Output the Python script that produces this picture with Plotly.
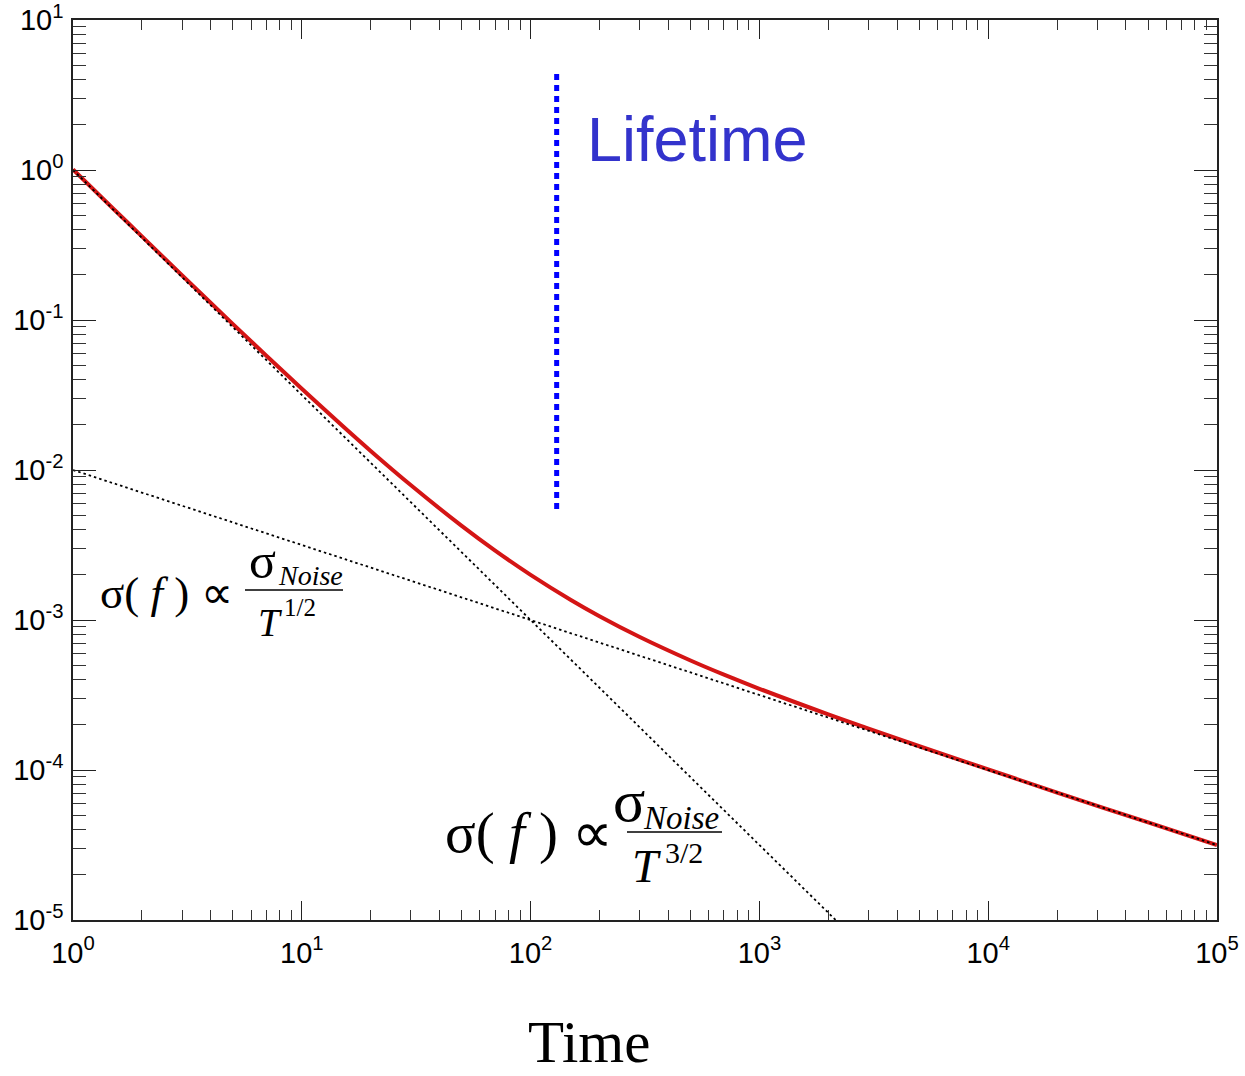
import plotly.graph_objects as go

# Total uncertainty vs. observing time (log-log)
time_vals = [1, 1.5, 2, 3, 5, 7, 10, 15, 20, 30, 50, 70, 100, 150, 200, 300, 500, 700,
             1000, 2000, 3000, 5000, 10000, 20000, 50000, 100000]
sigma_vals = [1.01, 0.552, 0.361, 0.198, 0.0939, 0.0578, 0.0348, 0.0198, 0.0134, 0.00791,
              0.00424, 0.00290, 0.00200, 0.00136, 0.00106, 0.000770, 0.000537, 0.000432,
              0.000348, 0.000235, 0.000189, 0.000144, 0.000101, 0.0000707, 0.0000447,
              0.0000316]

# Asymptotes
steep_t = [1, 2154]
steep_sigma = [1.0, 1e-5]
shallow_t = [1, 100000]
shallow_sigma = [0.01, 0.0000316]

# Lifetime marker
lifetime_t = [130, 130]
lifetime_sigma = [0.0055, 4.5]

x_ticks = [1, 10, 100, 1000, 10000, 100000]
x_ticktext = ["10<sup>0</sup>", "10<sup>1</sup>", "10<sup>2</sup>", "10<sup>3</sup>",
              "10<sup>4</sup>", "10<sup>5</sup>"]
y_ticks = [1e-5, 1e-4, 1e-3, 1e-2, 1e-1, 1, 10]
y_ticktext = ["10<sup>-5</sup>", "10<sup>-4</sup>", "10<sup>-3</sup>", "10<sup>-2</sup>",
              "10<sup>-1</sup>", "10<sup>0</sup>", "10<sup>1</sup>"]

x_minor = [m * 10 ** d for d in range(0, 5) for m in range(2, 10)]
y_minor = [m * 10.0 ** d for d in range(-5, 1) for m in range(2, 10)]

fig = go.Figure()

fig.add_trace(go.Scatter(x=time_vals, y=sigma_vals, mode="lines",
                         line=dict(color="#d41515", width=4, shape="spline"),
                         showlegend=False))
fig.add_trace(go.Scatter(x=steep_t, y=steep_sigma, mode="lines",
                         line=dict(color="black", width=1.8, dash="2.5px,3px"),
                         showlegend=False))
fig.add_trace(go.Scatter(x=shallow_t, y=shallow_sigma, mode="lines",
                         line=dict(color="black", width=1.8, dash="2.5px,3px"),
                         showlegend=False))
fig.add_trace(go.Scatter(x=lifetime_t, y=lifetime_sigma, mode="lines",
                         line=dict(color="#0000ff", width=5, dash="6px,5px"),
                         showlegend=False))

L, R, T, B = 73, 28, 20, 156
W, H = 1245, 1076
PW, PH = W - L - R, H - T - B


def px(xp):
    return (xp - L) / PW


def py(yp):
    return (H - B - yp) / PH


serif = "Liberation Serif, Times New Roman, serif"
sans = "Liberation Sans, Arial, sans-serif"


def note(x, y, text, size, xanchor="left", yanchor="middle", family=serif, color="black"):
    return dict(x=px(x), y=py(y), text=text, xanchor=xanchor, yanchor=yanchor,
                xref="paper", yref="paper", showarrow=False, borderpad=0,
                font=dict(family=family, size=size, color=color))


annos = [
    note(586, 139, "Lifetime", 63, family=sans, color="#3333cc"),
    note(589, 1076, "Time", 59, xanchor="center", yanchor="bottom"),
    # σ(f) ∝ σ_Noise / T^(1/2)
    note(99, 593, "σ( <i>f</i> ) ∝", 45),
    note(262, 561, "σ", 50, xanchor="center"),
    note(277, 575, "<i>Noise</i>", 28),
    note(270, 622, "<i>T</i>", 39, xanchor="center"),
    note(283, 607, "1/2", 25),
    # σ(f) ∝ σ_Noise / T^(3/2)
    note(444, 833, "σ( <i>f</i> ) ∝", 57),
    note(629, 801, "σ", 60, xanchor="center"),
    note(642, 818, "<i>Noise</i>", 33),
    note(646, 866, "<i>T</i>", 47, xanchor="center"),
    note(664, 852, "3/2", 30),
]

shapes = [
    dict(type="line", xref="paper", yref="paper", x0=px(245), x1=px(343),
         y0=py(590), y1=py(590), line=dict(color="black", width=1.5)),
    dict(type="line", xref="paper", yref="paper", x0=px(627), x1=px(722),
         y0=py(832), y1=py(832), line=dict(color="black", width=1.5)),
]

axis_common = dict(
    type="log", showgrid=False, zeroline=False, automargin=False,
    showline=True, linecolor="#222", linewidth=1.5, mirror="allticks",
    ticks="inside", tickwidth=1.3, tickcolor="#222", ticklabeloverflow="allow",
    tickfont=dict(family=sans, size=29, color="black"),
)

fig.update_xaxes(**axis_common, range=[0, 5], tickvals=x_ticks, ticktext=x_ticktext,
                 ticklen=19, ticklabelstandoff=6,
                 minor=dict(ticks="inside", ticklen=10, tickwidth=1.1, tickcolor="#333",
                            tickvals=x_minor, showgrid=False))
fig.update_yaxes(**axis_common, range=[-5, 1.0000001], tickvals=y_ticks,
                 ticktext=y_ticktext, ticklen=23, ticklabelstandoff=2,
                 minor=dict(ticks="inside", ticklen=13, tickwidth=1.1, tickcolor="#333",
                            tickvals=y_minor, showgrid=False))

fig.update_layout(
    width=W, height=H, margin=dict(l=L, r=R, t=T, b=B, autoexpand=False),
    plot_bgcolor="white", paper_bgcolor="white",
    annotations=annos, shapes=shapes,
)

fig.write_html("out.html")
